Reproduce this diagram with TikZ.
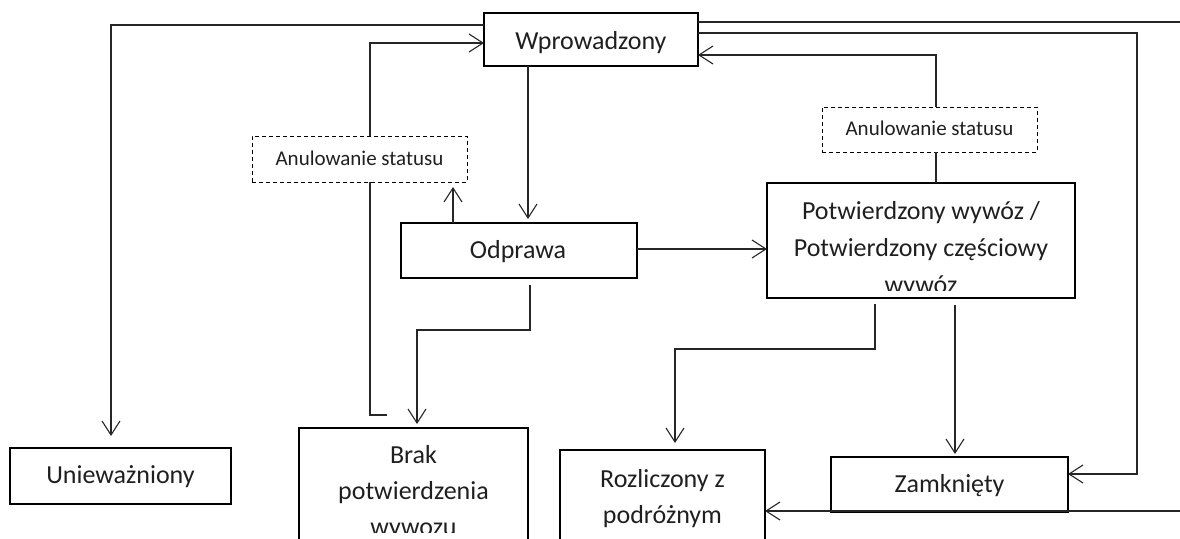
\documentclass[tikz,border=0pt]{standalone}
\usepackage{fontspec}
\setmainfont{Carlito}
\usetikzlibrary{arrows.meta,calc}
\begin{document}
\begin{tikzpicture}[x=1pt,y=-1pt,
  box/.style={draw=black, line width=1.3pt, inner sep=0pt, outer sep=0pt, anchor=north west},
  dbox/.style={draw=black, line width=0.9pt, dash pattern=on 4pt off 3pt, inner sep=0pt, outer sep=0pt, anchor=north west},
  txt/.style={anchor=base, inner sep=0pt, text=black!88, font=\fontsize{26}{36}\selectfont},
  stxt/.style={anchor=base, inner sep=0pt, text=black!88, font=\fontsize{21}{25}\selectfont},
  conn/.style={draw=black!85, line width=1.1pt},
  arr/.style={conn, -{Straight Barb[length=14pt,width=18pt,line width=1.1pt]}}
]
\useasboundingbox (0,0) rectangle (1180,538);
\clip (0,0) rectangle (1180,538);

% boxes
\node[box, minimum width=214pt, minimum height=53pt] (wpr) at (484,13) {};
\node[box, minimum width=236pt, minimum height=55pt] (odp) at (401,223) {};
\node[dbox, minimum width=215pt, minimum height=46pt] (anl) at (252,136) {};
\node[dbox, minimum width=215pt, minimum height=45pt] (anr) at (822,107) {};
\node[box, minimum width=308pt, minimum height=115pt] (pot) at (767,183) {};
\node[box, minimum width=221pt, minimum height=56pt] (unie) at (10,448) {};
\node[box, minimum width=229pt, minimum height=150pt] (brak) at (299,428) {};
\node[box, minimum width=205pt, minimum height=150pt] (roz) at (560,450) {};
\node[box, minimum width=237pt, minimum height=55pt] (zam) at (831,457) {};

% texts
\node[txt] (wprt) at (591,49) {Wprowadzony};
\node[txt] (odpt) at (518,258) {Odprawa};
\node[stxt] (anlt) at (359.5,165.5) {Anulowanie statusu};
\node[stxt] (anrt) at (929.5,135.5) {Anulowanie statusu};
\begin{scope}
  \clip (767,183) rectangle (1075,290);
  \node[txt] (pott1) at (921,219) {Potwierdzony wywóz /};
  \node[txt] (pott2) at (921,256) {Potwierdzony częściowy};
  \node[txt] (pott3) at (921,293) {wywóz};
\end{scope}
\node[txt] (uniet) at (120.5,483) {Unieważniony};
\begin{scope}
  \clip (299,428) rectangle (528,532);
  \node[txt] (brakt1) at (413.5,463) {Brak};
  \node[txt] (brakt2) at (413.5,499) {potwierdzenia};
  \node[txt] (brakt3) at (413.5,535) {wywozu};
\end{scope}
\node[txt] (rozt1) at (662.5,487) {Rozliczony z};
\node[txt] (rozt2) at (662.5,523) {podróżnym};
\node[txt] (zamt) at (949.5,492) {Zamknięty};

% free ends
\coordinate (edgeA) at (1180,22);
\coordinate (edgeB) at (1180,511);
\coordinate (stub) at (387,415);

% connectors
\draw[arr, shorten >=12pt] (wpr.west |- 0,25) -| (111,0 |- unie.north);
\draw[conn] (wpr.east |- edgeA) -- (edgeA);
\draw[arr] (wpr.east |- 0,33) -- (1137,33) -- (1137,474) -- (zam.east |- 0,474);
\draw[arr] (370,0 |- anl.north) |- (wpr.west |- 0,43);
\draw[conn] (stub) -| (370,0 |- anl.south);
\draw[arr, shorten >=5pt] (453,0 |- odp.north) -- (453,0 |- anl.south);
\draw[arr, shorten >=4pt] (528,0 |- wpr.south) -- (528,0 |- odp.north);
\draw[arr, shorten <=7pt, shorten >=4pt] (530,0 |- odp.south) |- (417,330) -- (417,0 |- brak.north);
\draw[arr] (odp.east |- 0,249) -- (pot.west |- 0,249);
\draw[conn] (936,0 |- pot.north) -- (936,0 |- anr.south);
\draw[arr] (936,0 |- anr.north) |- (wpr.east |- 0,55);
\draw[arr, shorten <=6pt, shorten >=7pt] (875,0 |- pot.south) |- (675,349) -- (675,0 |- roz.north);
\draw[arr, shorten <=7pt, shorten >=3pt] (955,0 |- pot.south) -- (955,0 |- zam.north);
\draw[arr] (edgeB) -- (roz.east |- edgeB);
\end{tikzpicture}
\end{document}
